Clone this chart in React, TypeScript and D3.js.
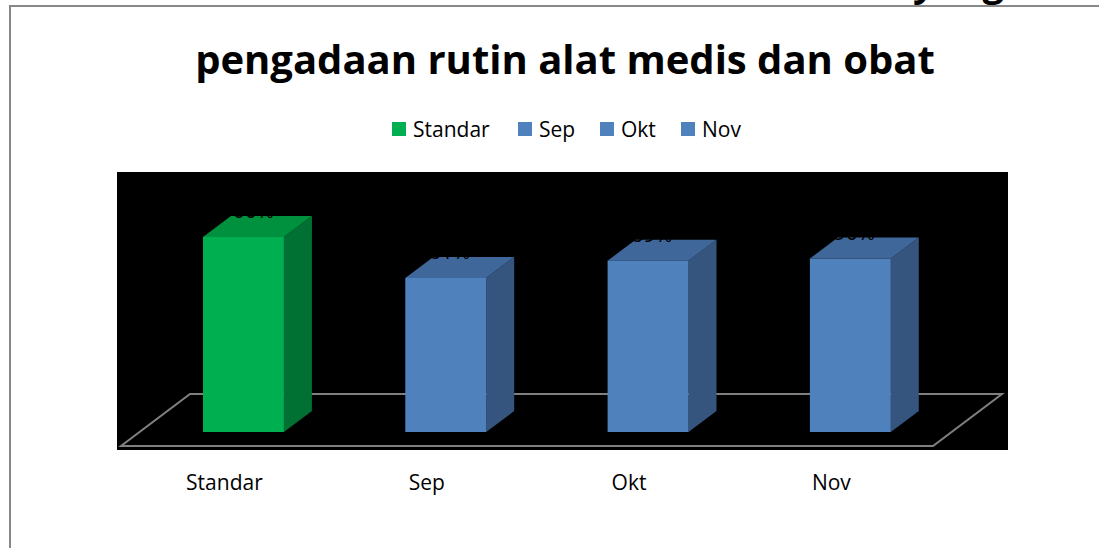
import React, { useRef, useEffect } from 'react';
import * as d3 from 'd3';

const categories = ['Standar', 'Sep', 'Okt', 'Nov'];
const values = [100, 81, 89, 90];
const legendLabels = ['Standar', 'Sep', 'Okt', 'Nov'];

const palette: Record<string, { front: string; top: string; side: string }> = {
  green: { front: '#00b050', top: '#00913f', side: '#007033' },
  blue: { front: '#4f81bd', top: '#40679a', side: '#35557f' },
};

const App: React.FC = () => {
  const svgRef = useRef<SVGSVGElement>(null);

  useEffect(() => {
    document.body.style.margin = '0';
    const width = 1099, height = 548;
    const svg = d3.select(svgRef.current as SVGSVGElement)
      .attr('width', width)
      .attr('height', height)
      .style('display', 'block')
      .style('background', '#fff');
    svg.selectAll('*').remove();

    const font = "'Open Sans', 'Noto Sans', sans-serif";

    // outer frame (only top and left visible)
    svg.append('path')
      .attr('d', 'M10,548 L10,6 L1099,6')
      .attr('fill', 'none')
      .attr('stroke', '#888')
      .attr('stroke-width', 2);

    // first title line, mostly above the view
    svg.append('text')
      .attr('x', 1004).attr('y', -4)
      .attr('text-anchor', 'end')
      .attr('font-family', font).attr('font-weight', 700).attr('font-size', 38)
      .text('yang');

    svg.append('text')
      .attr('x', 565).attr('y', 74)
      .attr('text-anchor', 'middle')
      .attr('font-family', font).attr('font-weight', 700).attr('font-size', 40)
      .attr('fill', '#000')
      .text('pengadaan rutin alat medis dan obat');

    // legend
    const legendX = [392, 518, 600, 681];
    legendLabels.forEach((l, i) => {
      const c = i === 0 ? palette.green : palette.blue;
      svg.append('rect')
        .attr('x', legendX[i]).attr('y', 122)
        .attr('width', 14).attr('height', 14)
        .attr('fill', c.front);
      svg.append('text')
        .attr('x', legendX[i] + 21).attr('y', 137)
        .attr('font-family', font).attr('font-size', 21)
        .attr('fill', '#000')
        .text(l);
    });

    // plot area
    svg.append('rect')
      .attr('x', 117).attr('y', 172)
      .attr('width', 891).attr('height', 278)
      .attr('fill', '#000');

    // floor
    const floor = [[121, 446], [933, 446], [1002, 394], [190, 394]];
    svg.append('path')
      .attr('d', 'M' + floor.map(p => p.join(',')).join('L') + 'Z')
      .attr('fill', 'none')
      .attr('stroke', '#808080')
      .attr('stroke-width', 2);

    const x = d3.scaleBand<string>()
      .domain(categories)
      .range([142.3, 951.5])
      .paddingInner(0.6)
      .paddingOuter(0.3);
    const y = d3.scaleLinear().domain([9.5, 100]).range([432, 237]);
    const dx = 28, dy = -21;
    const bw = x.bandwidth();
    const base = y(9.5);

    categories.forEach((cat, i) => {
      const c = i === 0 ? palette.green : palette.blue;
      const x0 = x(cat) as number;
      const x1 = x0 + bw;
      const yt = y(values[i]);
      const g = svg.append('g');
      // side
      g.append('path')
        .attr('d', `M${x1},${yt}L${x1 + dx},${yt + dy}L${x1 + dx},${base + dy}L${x1},${base}Z`)
        .attr('fill', c.side);
      // top
      g.append('path')
        .attr('d', `M${x0},${yt}L${x0 + dx},${yt + dy}L${x1 + dx},${yt + dy}L${x1},${yt}Z`)
        .attr('fill', c.top);
      // front
      g.append('rect')
        .attr('x', x0).attr('y', yt)
        .attr('width', bw).attr('height', base - yt)
        .attr('fill', c.front);
      // data label
      g.append('text')
        .attr('x', x0 + bw / 2 + 4).attr('y', yt - 19)
        .attr('text-anchor', 'middle')
        .attr('font-family', font).attr('font-size', 21)
        .attr('fill', '#000')
        .text(values[i] + '%');
      // category label
      svg.append('text')
        .attr('x', x0 + bw / 2 - 19).attr('y', 490)
        .attr('text-anchor', 'middle')
        .attr('font-family', font).attr('font-size', 21)
        .attr('fill', '#000')
        .text(cat);
    });
  }, []);

  return <svg ref={svgRef} />;
};

export default App;
